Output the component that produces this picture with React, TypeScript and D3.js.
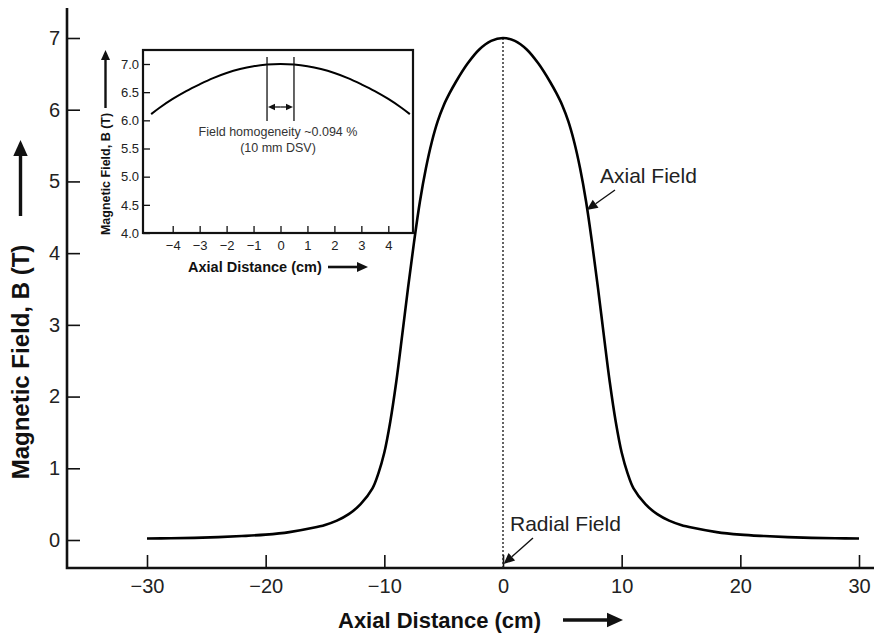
import React, { useEffect, useRef } from 'react';
import * as d3 from 'd3';

// main curve (cm, T)
const axialPos = [
  -30, -28, -26, -24, -22, -20, -18, -16, -15, -14, -13, -12, -11, -10.5, -10, -9.5, -9, -8.5, -8, -7.5,
  -7, -6.5, -6, -5.5, -5, -4.5, -4, -3, -2, -1, 0, 1, 2, 3, 4, 4.5, 5, 5.5, 6, 6.5, 7, 7.5, 8, 8.5, 9, 9.5, 10,
  10.5, 11, 12, 13, 14, 15, 16, 18, 20, 22, 24, 26, 28, 30,
];
const fieldB = [
  0.02, 0.025, 0.03, 0.04, 0.055, 0.075, 0.11, 0.17, 0.21, 0.27, 0.36, 0.5, 0.72, 0.93, 1.22, 1.65, 2.2, 2.85, 3.52, 4.15,
  4.72, 5.18, 5.55, 5.84, 6.06, 6.23, 6.38, 6.64, 6.84, 6.96, 7.0, 6.96, 6.84, 6.64, 6.38, 6.23, 6.06, 5.84, 5.55, 5.18,
  4.72, 4.15, 3.52, 2.85, 2.2, 1.65, 1.22, 0.93, 0.72, 0.5, 0.36, 0.27, 0.21, 0.17, 0.11, 0.075, 0.055, 0.04, 0.03,
  0.025, 0.02,
];

// inset curve
const insetPos = [-4.8, -4.5, -4, -3.5, -3, -2.5, -2, -1.5, -1, -0.5, 0, 0.5, 1, 1.5, 2, 2.5, 3, 3.5, 4, 4.5, 4.8];
const insetB = [
  6.11, 6.22, 6.38, 6.52, 6.64, 6.75, 6.84, 6.91, 6.96, 6.99, 7.0, 6.99, 6.96, 6.91, 6.84, 6.75, 6.64, 6.52, 6.38,
  6.22, 6.11,
];

const xTicks = [-30, -20, -10, 0, 10, 20, 30];
const yTicks = [0, 1, 2, 3, 4, 5, 6, 7];
const insetXTicks = [-4, -3, -2, -1, 0, 1, 2, 3, 4];
const insetYTicks = [4.0, 4.5, 5.0, 5.5, 6.0, 6.5, 7.0];

const FONT = '"Liberation Sans", Arial, Helvetica, sans-serif';

const App = () => {
  const svgRef = useRef<SVGSVGElement>(null);

  useEffect(() => {
    const width = 874,
      height = 633;
    const axisLeftX = 67,
      axisBottomY = 568,
      axisTopY = 8;

    const svg = d3.select(svgRef.current).attr('width', width).attr('height', height);
    svg.selectAll('*').remove();
    const g = svg.append('g');

    const x = d3.scaleLinear().domain([-30, 30]).range([147, 859]);
    const y = d3.scaleLinear().domain([0, 7]).range([540, 38]);

    // arrow helper: shaft + filled head
    const arrow = (x1: number, y1: number, x2: number, y2: number, w: number, head: number) => {
      const ang = Math.atan2(y2 - y1, x2 - x1);
      const bx = x2 - Math.cos(ang) * head,
        by = y2 - Math.sin(ang) * head;
      g.append('line').attr('x1', x1).attr('y1', y1).attr('x2', bx).attr('y2', by)
        .attr('stroke', '#111').attr('stroke-width', w);
      const hw = head * 0.45;
      const px = -Math.sin(ang) * hw,
        py = Math.cos(ang) * hw;
      g.append('polygon')
        .attr('points', `${x2},${y2} ${bx + px},${by + py} ${bx - px},${by - py}`)
        .attr('fill', '#111');
    };

    // axes
    const yAxis = g.append('g').attr('transform', `translate(${axisLeftX},0)`)
      .call(d3.axisLeft(y).tickValues(yTicks).tickSize(-13).tickPadding(7).tickFormat(d3.format('d')));
    const xAxis = g.append('g').attr('transform', `translate(0,${axisBottomY})`)
      .call(d3.axisBottom(x).tickValues(xTicks).tickSize(-13).tickPadding(8).tickFormat(d3.format('d')));
    [yAxis, xAxis].forEach((a) => {
      a.select('.domain').remove();
      a.selectAll('line').attr('stroke', '#111').attr('stroke-width', 1.6);
      a.selectAll('text').attr('font-family', FONT).attr('font-size', 20).attr('fill', '#222');
    });
    xAxis.selectAll('text').attr('dy', '0.85em');
    g.append('path')
      .attr('d', `M${axisLeftX},${axisTopY}V${axisBottomY}H${width}`)
      .attr('fill', 'none').attr('stroke', '#111').attr('stroke-width', 2.6);

    // radial field dotted line
    g.append('line').attr('x1', x(0)).attr('x2', x(0)).attr('y1', y(7)).attr('y2', axisBottomY)
      .attr('stroke', '#222').attr('stroke-width', 1.4).attr('stroke-dasharray', '2,2');

    // main curve
    const pts = axialPos.map((d, i) => [d, fieldB[i]] as [number, number]);
    g.append('path').datum(pts)
      .attr('d', d3.line<[number, number]>().x((d) => x(d[0])).y((d) => y(d[1])).curve(d3.curveCatmullRom))
      .attr('fill', 'none').attr('stroke', '#000').attr('stroke-width', 2.6);

    // annotations
    g.append('text').attr('x', 600).attr('y', 183).text('Axial Field')
      .attr('font-family', FONT).attr('font-size', 21).attr('fill', '#222');
    arrow(615, 190, x(7.05), y(4.6), 1.4, 11);
    g.append('text').attr('x', 510).attr('y', 531).text('Radial Field')
      .attr('font-family', FONT).attr('font-size', 21).attr('fill', '#222');
    arrow(533, 538, x(0.05), 564, 1.4, 11);

    // axis titles
    g.append('text').attr('transform', 'translate(29,362) rotate(-90)')
      .attr('text-anchor', 'middle').text('Magnetic Field, B (T)')
      .attr('font-family', FONT).attr('font-size', 24).attr('font-weight', 'bold').attr('fill', '#111');
    arrow(20.5, 216, 20.5, 140, 3.4, 16);
    g.append('text').attr('x', 338).attr('y', 628).text('Axial Distance (cm)')
      .attr('font-family', FONT).attr('font-size', 22).attr('font-weight', 'bold').attr('fill', '#111');
    arrow(563, 620, 623, 620, 3.4, 16);

    // inset
    const ix = d3.scaleLinear().domain([-4, 4]).range([172.7, 388.3]);
    const iy = d3.scaleLinear().domain([4, 7]).range([233, 64]);
    g.append('rect').attr('x', 143).attr('y', 50).attr('width', 270).attr('height', 183)
      .attr('fill', '#fff').attr('stroke', '#111').attr('stroke-width', 2.2);
    const iyAxis = g.append('g').attr('transform', 'translate(143,0)')
      .call(d3.axisLeft(iy).tickValues(insetYTicks).tickSize(-7).tickPadding(4).tickFormat(d3.format('.1f')));
    const ixAxis = g.append('g').attr('transform', 'translate(0,233)')
      .call(d3.axisBottom(ix).tickValues(insetXTicks).tickSize(-7).tickPadding(5).tickFormat(d3.format('d')));
    [iyAxis, ixAxis].forEach((a) => {
      a.select('.domain').remove();
      a.selectAll('line').attr('stroke', '#111').attr('stroke-width', 1.3);
      a.selectAll('text').attr('font-family', FONT).attr('font-size', 13).attr('fill', '#222');
    });
    ixAxis.selectAll('text').attr('dy', '0.9em');

    const ipts = insetPos.map((d, i) => [d, insetB[i]] as [number, number]);
    g.append('path').datum(ipts)
      .attr('d', d3.line<[number, number]>().x((d) => ix(d[0])).y((d) => iy(d[1])).curve(d3.curveCatmullRom))
      .attr('fill', 'none').attr('stroke', '#000').attr('stroke-width', 2);

    // DSV markers
    [-0.5, 0.5].forEach((v) => {
      g.append('line').attr('x1', ix(v)).attr('x2', ix(v)).attr('y1', 57).attr('y2', 121)
        .attr('stroke', '#111').attr('stroke-width', 1.3);
    });
    const midX = (ix(-0.5) + ix(0.5)) / 2;
    arrow(midX, 107, ix(-0.5) + 1, 107, 1.3, 7);
    arrow(midX, 107, ix(0.5) - 1, 107, 1.3, 7);
    g.append('text').attr('x', 278).attr('y', 136).attr('text-anchor', 'middle')
      .text('Field homogeneity ~0.094 %').attr('font-family', FONT).attr('font-size', 12.5).attr('fill', '#333');
    g.append('text').attr('x', 278).attr('y', 152).attr('text-anchor', 'middle')
      .text('(10 mm DSV)').attr('font-family', FONT).attr('font-size', 12.5).attr('fill', '#333');

    // inset titles
    g.append('text').attr('transform', 'translate(110,174) rotate(-90)')
      .attr('text-anchor', 'middle').text('Magnetic Field, B (T)')
      .attr('font-family', FONT).attr('font-size', 12.5).attr('font-weight', 'bold').attr('fill', '#111');
    arrow(105.5, 108, 105.5, 50, 2.4, 10);
    g.append('text').attr('x', 188).attr('y', 272).text('Axial Distance (cm)')
      .attr('font-family', FONT).attr('font-size', 14.5).attr('font-weight', 'bold').attr('fill', '#111');
    arrow(328, 267, 368, 267, 2.6, 11);
  }, []);

  return <svg ref={svgRef} style={{ position: 'absolute', left: 0, top: 0, background: '#fff' }}></svg>;
};

export default App;
